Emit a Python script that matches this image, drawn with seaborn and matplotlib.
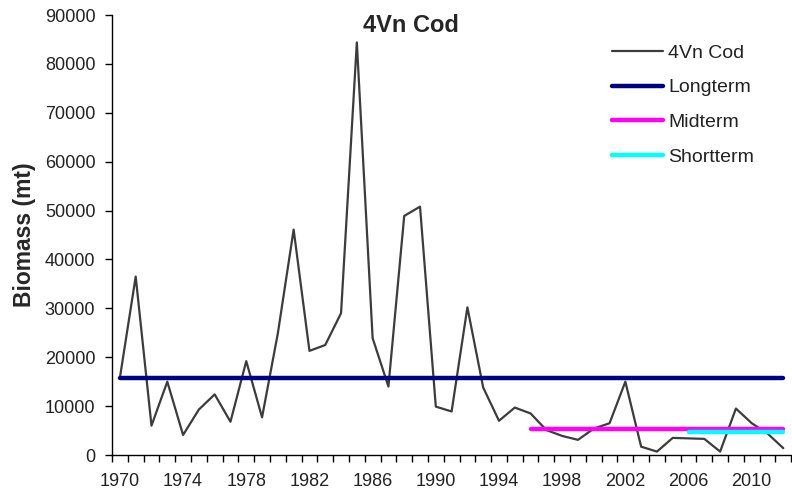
import matplotlib
matplotlib.use("Agg")
import matplotlib.pyplot as plt
import seaborn as sns
import pandas as pd
import numpy as np

# 4Vn cod biomass (mt)
years = list(range(1970, 2013))
biomass = [15800, 36500, 6000, 15000, 4100, 9300, 12400, 6800, 19200, 7700,
           24900, 46100, 21300, 22500, 29000, 84400, 23900, 14000, 48900, 50800,
           9900, 8900, 30200, 13800, 7000, 9700, 8500, 5100, 3900, 3100,
           5400, 6500, 15000, 1700, 700, 3500, 3400, 3300, 700, 9500,
           6500, 4400, 1400]

# reference levels: (label, first year, last year, value)
ref_labels = ["Longterm", "Midterm", "Shortterm"]
ref_start = [1970, 1996, 2006]
ref_end = [2012, 2012, 2012]
ref_value = [15800, 5250, 4750]
ref_colors = ["#000080", "#FF00FF", "#00FFFF"]

x_labels = list(range(1970, 2012, 4))

sns.set_style("white")
plt.rcParams["font.family"] = ["Liberation Sans", "DejaVu Sans"]

fig = plt.figure(figsize=(7.92, 4.93), dpi=100)
ax = fig.add_axes([112 / 792, 38 / 493, 1 - 112 / 792 - 0.001, 440 / 493])

df = pd.DataFrame({"year": years, "biomass": biomass})
sns.lineplot(data=df, x="year", y="biomass", ax=ax, color="#3c3c3c",
             linewidth=1.6, label="4Vn Cod")

for lab, s, e, v, c in zip(ref_labels, ref_start, ref_end, ref_value, ref_colors):
    seg = pd.DataFrame({"year": [s, e], "biomass": [v, v]})
    sns.lineplot(data=seg, x="year", y="biomass", ax=ax, color=c,
                 linewidth=3.2, label=lab, solid_capstyle="round")

ax.set_xlim(1969.5, 2012.5)
ax.set_ylim(0, 90000)
ax.set_yticks(np.arange(0, 90001, 10000))
ax.set_xticks(x_labels)
ax.set_xticks(np.arange(1969.5, 2013, 1), minor=True)
ax.tick_params(axis="x", which="major", length=0, pad=13, labelsize=13)
ax.tick_params(axis="x", which="minor", length=5, width=1, direction="out",
               bottom=True, color="black")
ax.tick_params(axis="y", length=5, width=1, direction="out", left=True,
               pad=7, labelsize=13, color="black")
for lbl in ax.get_xticklabels() + ax.get_yticklabels():
    lbl.set_color("#222222")

sns.despine(ax=ax)
for sp in ("left", "bottom"):
    ax.spines[sp].set_color("black")
    ax.spines[sp].set_linewidth(1.0)

ax.set_xlabel("")
ax.set_ylabel("Biomass (mt)", fontsize=16.5, fontweight="bold", labelpad=6)

fig.text(411 / 792, 1 - 25 / 493, "4Vn Cod", ha="center", va="center",
         fontsize=17, fontweight="bold")

leg = ax.legend(loc="upper left", bbox_to_anchor=(612 / 792, 1 - 44 / 493),
                bbox_transform=fig.transFigure, frameon=False, fontsize=14,
                handlelength=2.6, handletextpad=0.3, labelspacing=0.88,
                borderpad=0, borderaxespad=0)
for t in leg.get_texts():
    t.set_color("#222222")

fig.savefig("out.png", dpi=100)
